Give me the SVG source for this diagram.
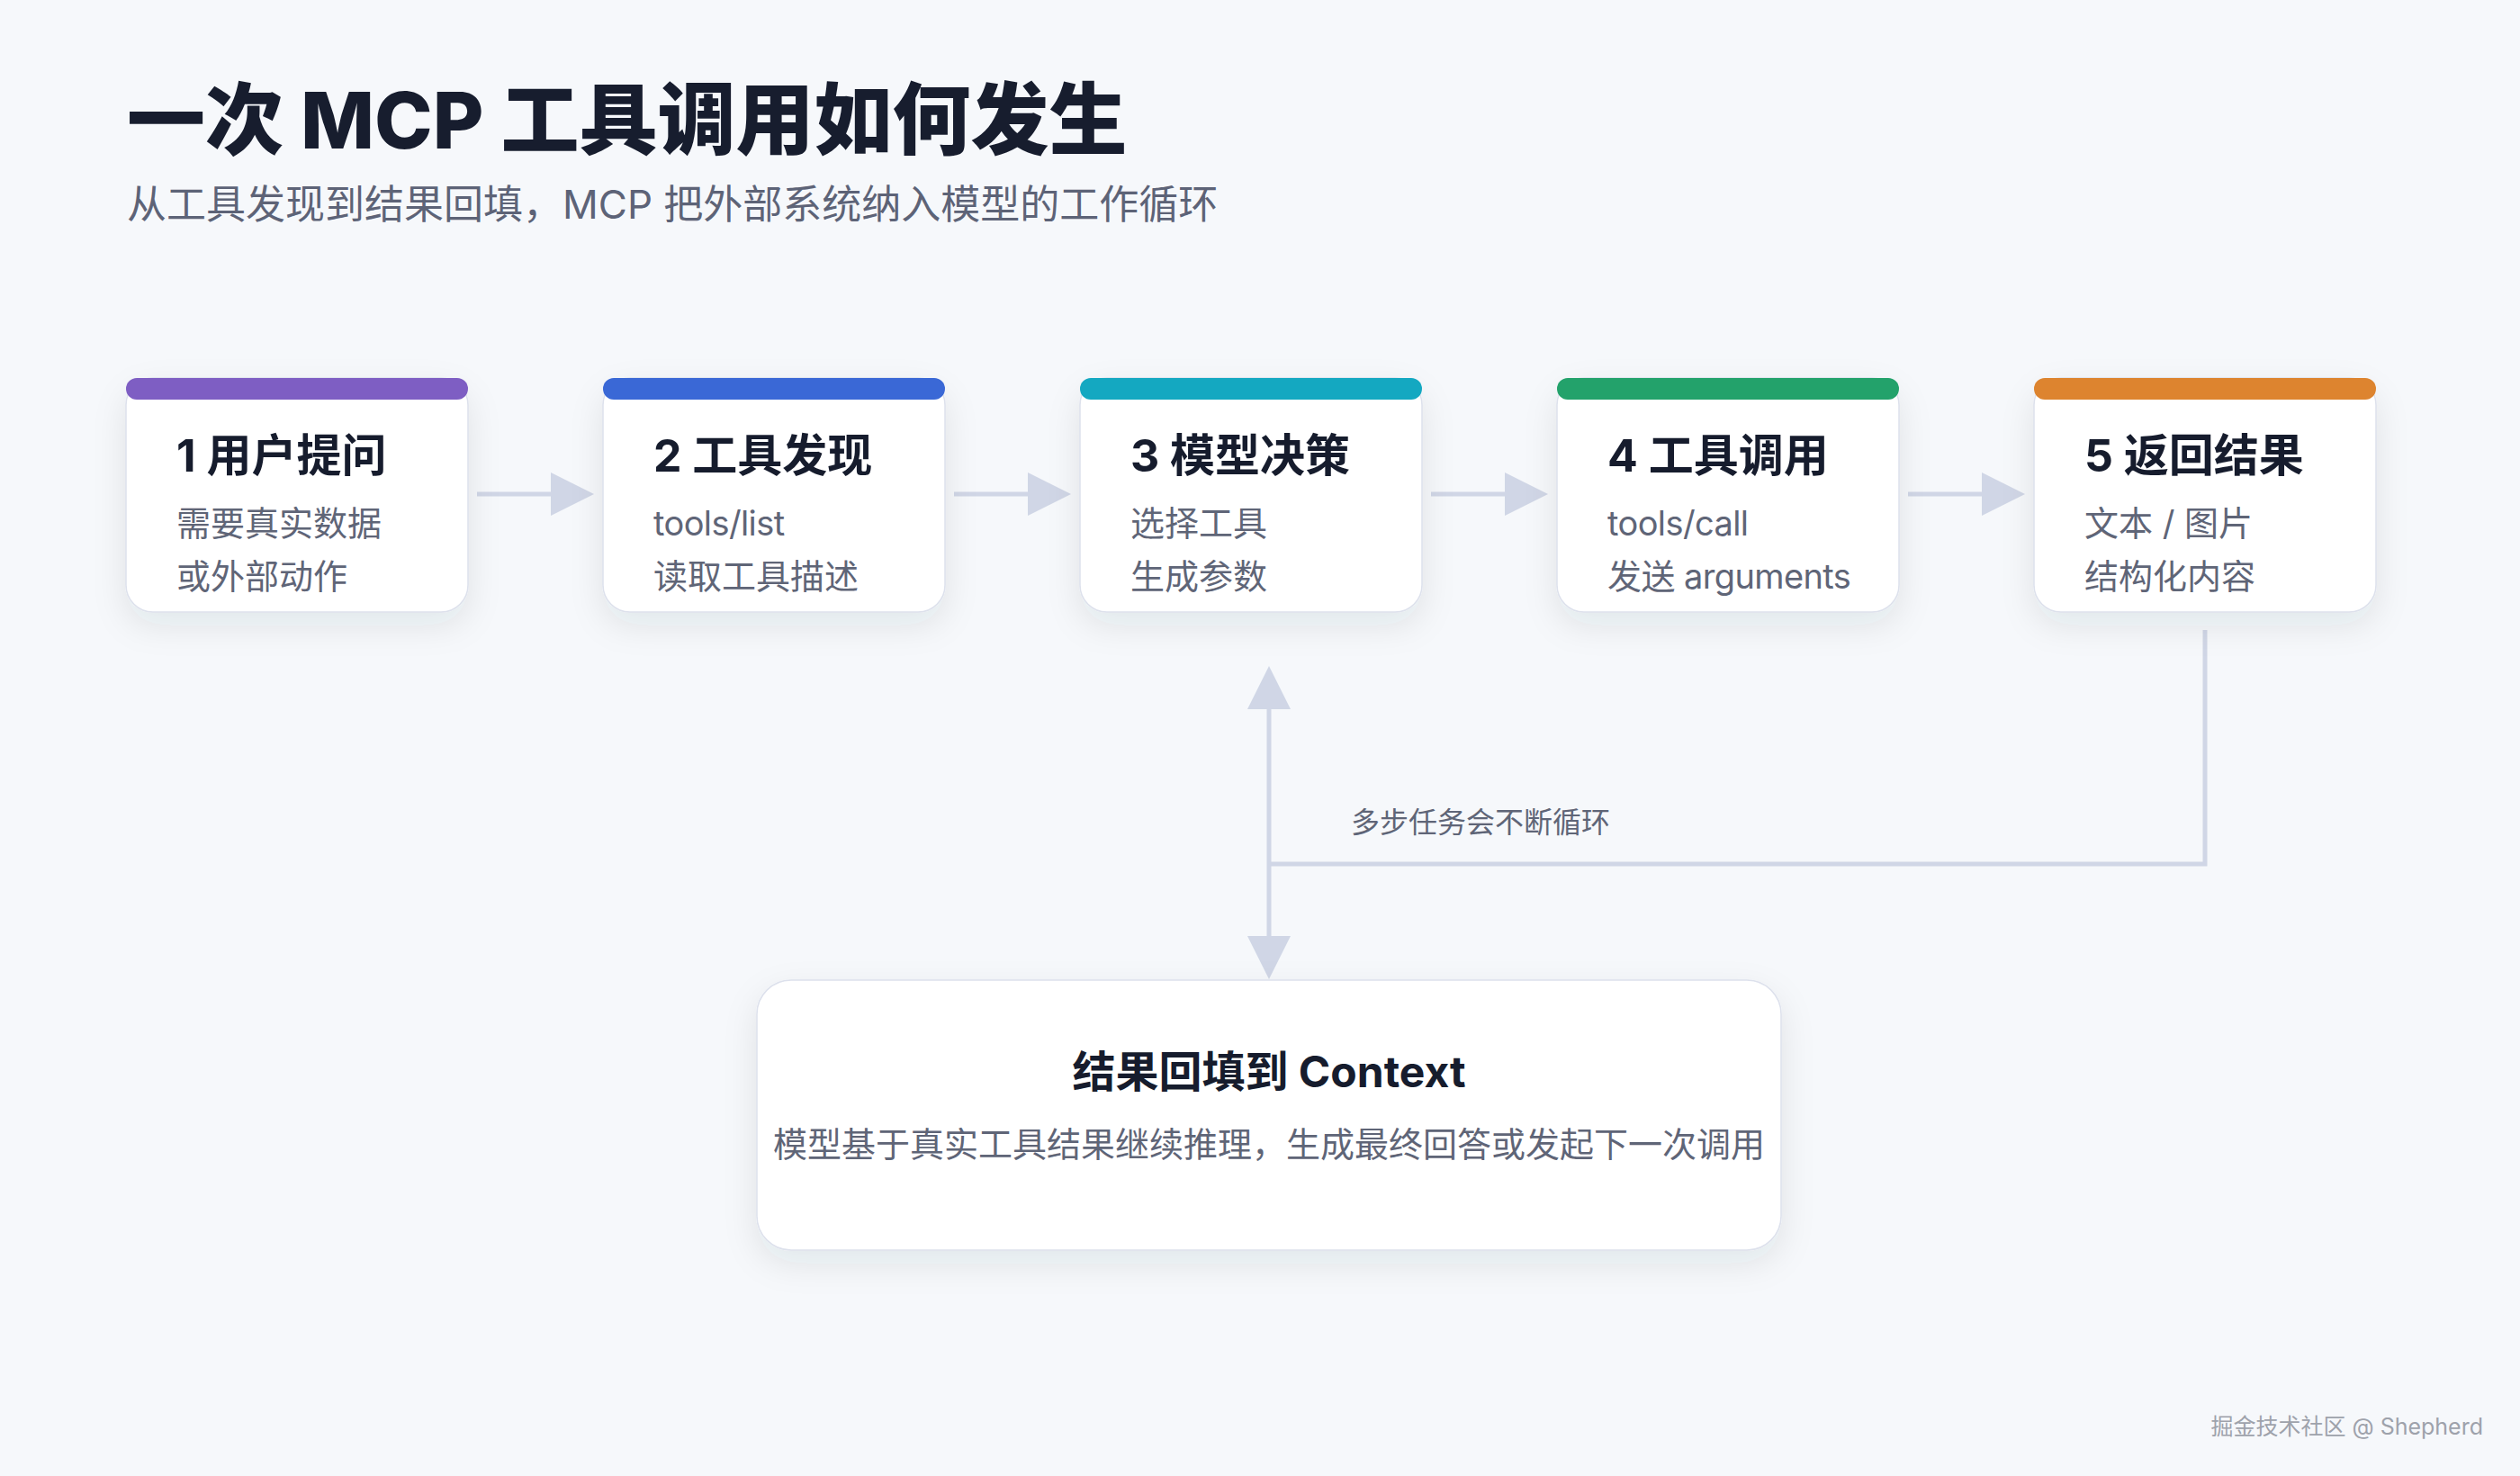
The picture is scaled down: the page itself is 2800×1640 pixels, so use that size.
<svg xmlns="http://www.w3.org/2000/svg" width="2800" height="1640" viewBox="0 0 2800 1640">
  <defs>
    <filter id="shadow" x="-20%" y="-20%" width="140%" height="150%">
      <feDropShadow dx="0" dy="14" stdDeviation="18" flood-color="#1f2a44" flood-opacity="0.09"/>
    </filter>
    <marker id="arrow" viewBox="0 0 48 48" refX="8" refY="24" markerWidth="48" markerHeight="48" markerUnits="userSpaceOnUse" orient="auto-start-reverse">
      <path d="M0,0 L48,24 L0,48 Z" fill="#d0d6e6"/>
    </marker>
    <style>
      text { font-family: Inter, "Noto Sans CJK SC", "Noto Sans", sans-serif; }
      .title { font-size: 87px; font-weight: 800; fill: #171d2e; }
      .subtitle { font-size: 44px; font-weight: 400; fill: #5d6377; }
      .card { fill: #ffffff; stroke: #dde1ec; stroke-width: 1.5; }
      .ctitle { font-size: 50px; font-weight: 700; fill: #161c2d; }
      .csub { font-size: 38px; font-weight: 400; fill: #5f6577; }
      .lat { letter-spacing: -0.6px; }
      .conn { fill: none; stroke: #d0d6e6; stroke-width: 5; }
      .label { font-size: 32px; fill: #5f6577; }
      .btitle { font-size: 48px; font-weight: 700; fill: #161c2d; }
      .bsub { font-size: 38px; fill: #5f6577; }
      .wm { font-size: 25px; fill: #9ea2ab; }
    </style>
  </defs>

  <rect x="0" y="0" width="2800" height="1640" fill="#f6f8fb"/>

  <g id="header">
    <text class="title" x="141" y="165">一次 MCP 工具调用如何发生</text>
    <text class="subtitle" x="141" y="243">从工具发现到结果回填，MCP 把外部系统纳入模型的工作循环</text>
  </g>

  <g id="connectors">
    <line class="conn" x1="530" y1="549" x2="620" y2="549" marker-end="url(#arrow)"/>
    <line class="conn" x1="1060" y1="549" x2="1150" y2="549" marker-end="url(#arrow)"/>
    <line class="conn" x1="1590" y1="549" x2="1680" y2="549" marker-end="url(#arrow)"/>
    <line class="conn" x1="2120" y1="549" x2="2210" y2="549" marker-end="url(#arrow)"/>
    <line class="conn" x1="1410" y1="780" x2="1410" y2="1048" marker-start="url(#arrow)" marker-end="url(#arrow)"/>
    <polyline class="conn" points="2450,700 2450,960 1410,960"/>
    <text class="label" x="1501" y="925">多步任务会不断循环</text>
  </g>

  <g id="node1">
    <rect class="card" x="140" y="420" width="380" height="260" rx="30" filter="url(#shadow)"/>
    <rect x="140" y="420" width="380" height="24" rx="12" fill="#7e5ec3"/>
    <text class="ctitle" x="196" y="524">1 用户提问</text>
    <text class="csub" x="196" y="595">需要真实数据</text>
    <text class="csub" x="196" y="654">或外部动作</text>
  </g>

  <g id="node2">
    <rect class="card" x="670" y="420" width="380" height="260" rx="30" filter="url(#shadow)"/>
    <rect x="670" y="420" width="380" height="24" rx="12" fill="#3a68d6"/>
    <text class="ctitle" x="726" y="524">2 工具发现</text>
    <text class="csub lat" x="726" y="595">tools/list</text>
    <text class="csub" x="726" y="654">读取工具描述</text>
  </g>

  <g id="node3">
    <rect class="card" x="1200" y="420" width="380" height="260" rx="30" filter="url(#shadow)"/>
    <rect x="1200" y="420" width="380" height="24" rx="12" fill="#14a8c1"/>
    <text class="ctitle" x="1256" y="524">3 模型决策</text>
    <text class="csub" x="1256" y="595">选择工具</text>
    <text class="csub" x="1256" y="654">生成参数</text>
  </g>

  <g id="node4">
    <rect class="card" x="1730" y="420" width="380" height="260" rx="30" filter="url(#shadow)"/>
    <rect x="1730" y="420" width="380" height="24" rx="12" fill="#23a26b"/>
    <text class="ctitle" x="1786" y="524">4 工具调用</text>
    <text class="csub lat" x="1786" y="595">tools/call</text>
    <text class="csub lat" x="1786" y="654">发送 arguments</text>
  </g>

  <g id="node5">
    <rect class="card" x="2260" y="420" width="380" height="260" rx="30" filter="url(#shadow)"/>
    <rect x="2260" y="420" width="380" height="24" rx="12" fill="#dd842f"/>
    <text class="ctitle" x="2316" y="524">5 返回结果</text>
    <text class="csub" x="2316" y="595">文本 / 图片</text>
    <text class="csub" x="2316" y="654">结构化内容</text>
  </g>

  <g id="context">
    <rect class="card" x="841" y="1089" width="1138" height="300" rx="38" filter="url(#shadow)"/>
    <text class="btitle" x="1410" y="1208" text-anchor="middle">结果回填到 Context</text>
    <text class="bsub" x="1410" y="1285" text-anchor="middle">模型基于真实工具结果继续推理，生成最终回答或发起下一次调用</text>
  </g>

  <g id="watermark">
    <text class="wm" x="2759" y="1594" text-anchor="end">掘金技术社区 @ Shepherd</text>
  </g>
</svg>
